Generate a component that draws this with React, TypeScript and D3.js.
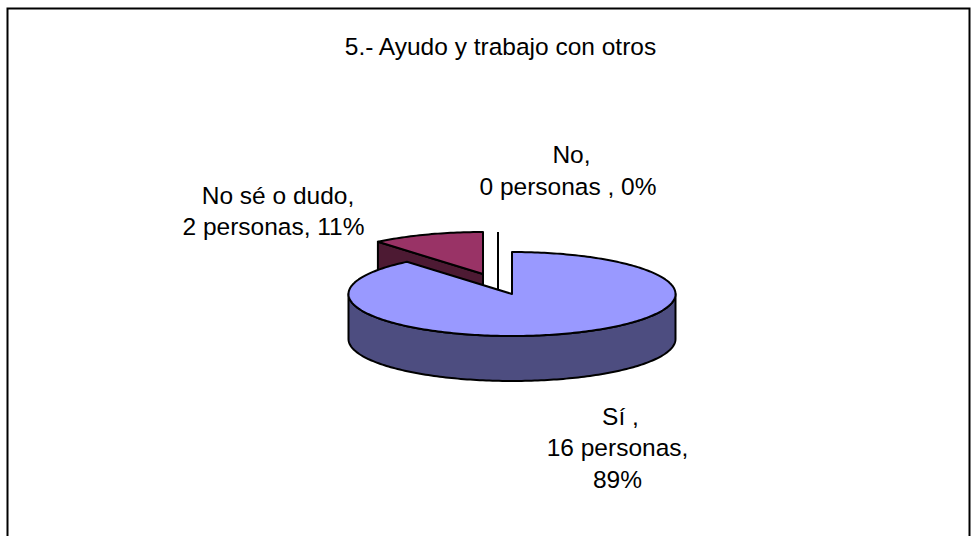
import React from 'react';
import * as d3 from 'd3';

const categories = ['Sí', 'No sé o dudo', 'No'];
const values = [16, 2, 0];
const colors = ['#9999ff', '#993366', '#ffffff'];
const sideColors = ['#4d4d80', '#4d1a33', '#ffffff'];
// pulled out slices, in pixels
const offsets = [[0, 0], [-29, -20], [-14, -20]];

const titleText = '5.- Ayudo y trabajo con otros';
const labelLines = [
  ['Sí ,', '16 personas,', '89%'],
  ['No sé o dudo,', '2 personas, 11%'],
  ['No,', '0 personas , 0%'],
];
const labelAnchors = [[617.5, 424.5], [273.5, 203.5], [568, 163]];
// first lines sit a little right of the block centre in the original
const firstLineNudge = [3, 4.5, 3.5];

const width = 977;
const height = 536;
const cx = 512;
const cy = 294;
const rx = 163.5;
const ry = 42;
const depth = 45;
const font = 'Liberation Sans, Arial, sans-serif';

const arcs = d3.pie<number>().sort(null).value(d => d)(values);

const line = d3.line();

const project = (a: number, dx: number, dy: number): [number, number] => [
  cx + dx + rx * Math.sin(a),
  cy + dy - ry * Math.cos(a),
];

const sweep = (a0: number, a1: number, dx: number, dy: number) => {
  const n = Math.max(2, Math.ceil(Math.abs(a1 - a0) / 0.02));
  return d3.range(n + 1).map(i => project(a0 + ((a1 - a0) * i) / n, dx, dy));
};

const down = (pts: [number, number][]) =>
  pts.map(([x, y]) => [x, y + depth] as [number, number]);

function Slice({ i }: { i: number }) {
  const { startAngle, endAngle } = arcs[i];
  const [dx, dy] = offsets[i];
  const apex: [number, number] = [cx + dx, cy + dy];
  const rim = sweep(startAngle, endAngle, dx, dy);

  // front wall, only the part of the rim facing the viewer
  const frontStart = Math.max(startAngle, Math.PI / 2);
  const frontEnd = Math.min(endAngle, (3 * Math.PI) / 2);
  const front = frontEnd > frontStart ? sweep(frontStart, frontEnd, dx, dy) : null;

  const stroke = { stroke: '#000', strokeWidth: 2, strokeLinejoin: 'round' as const };

  if (endAngle === startAngle) {
    // empty slice: a single radius and the cut wall under it
    const tip = project(startAngle, dx, dy);
    return <path d={line([tip, apex, [apex[0], apex[1] + depth]]) ?? ''} fill="none" {...stroke} />;
  }

  // cut wall on the trailing side, seen from the front for the pulled out slice
  const cut = project(startAngle, dx, dy);
  const wall: [number, number][] = [cut, apex, [apex[0], apex[1] + depth], [cut[0], cut[1] + depth]];

  return (
    <g>
      {i > 0 && <path d={(line(wall) ?? '') + 'Z'} fill={sideColors[i]} {...stroke} />}
      {front && (
        <path d={(line([...front, ...down(front).reverse()]) ?? '') + 'Z'} fill={sideColors[i]} {...stroke} />
      )}
      <path d={(line([apex, ...rim]) ?? '') + 'Z'} fill={colors[i]} {...stroke} />
    </g>
  );
}

export default function App() {
  return (
    <svg
      width={width}
      height={height}
      style={{ position: 'absolute', left: 0, top: 0, background: '#fff' }}
    >
      <rect x={7.5} y={8.5} width={962} height={540} fill="#fff" stroke="#000" strokeWidth={2} />
      <text x={500.5} y={55} textAnchor="middle" fontFamily={font} fontSize={24.5} fill="#000">
        {titleText}
      </text>
      {/* back slices first, the big one overlaps them */}
      <Slice i={2} />
      <Slice i={1} />
      <Slice i={0} />
      {categories.map((c, i) => (
        <text
          key={c}
          x={labelAnchors[i][0]}
          y={labelAnchors[i][1]}
          textAnchor="middle"
          fontFamily={font}
          fontSize={24.5}
          fill="#000"
        >
          {labelLines[i].map((t, j) => (
            <tspan
              key={j}
              x={labelAnchors[i][0] + (j === 0 ? firstLineNudge[i] : 0)}
              dy={j === 0 ? 0 : 31.5}
            >
              {t}
            </tspan>
          ))}
        </text>
      ))}
    </svg>
  );
}
